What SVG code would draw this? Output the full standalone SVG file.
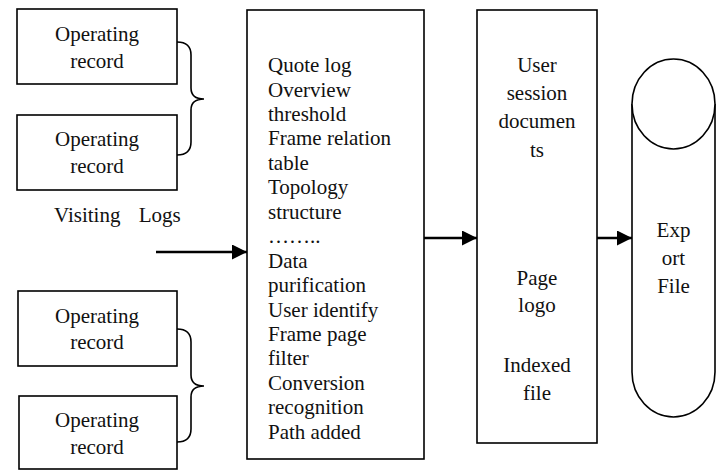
<svg xmlns="http://www.w3.org/2000/svg" width="720" height="471" viewBox="0 0 720 471">
<style>
.box{fill:#fff;stroke:#000;stroke-width:1.6}
.t{font-family:"Liberation Serif","Times New Roman",serif;font-size:21px;fill:#111}
.c{text-anchor:middle}
.conn{fill:none;stroke:#000;stroke-width:2.6}
.brace{fill:none;stroke:#000;stroke-width:1.6}
</style>
<defs>
<marker id="ah" markerWidth="16" markerHeight="16" refX="15" refY="7.5" orient="auto" markerUnits="userSpaceOnUse">
<path d="M0,0 L15,7.5 L0,15 Z" fill="#000"/>
</marker>
</defs>
<rect width="720" height="471" fill="#fff"/>
<g id="rec1">
<rect class="box" x="17" y="9" width="160" height="75"/>
<text class="t c" x="97" y="41">Operating</text>
<text class="t c" x="97" y="68">record</text>
</g>
<g id="rec2">
<rect class="box" x="17" y="115" width="160" height="75"/>
<text class="t c" x="97" y="146">Operating</text>
<text class="t c" x="97" y="173">record</text>
</g>
<g id="rec3">
<rect class="box" x="18" y="291" width="159" height="75"/>
<text class="t c" x="97" y="323">Operating</text>
<text class="t c" x="97" y="349">record</text>
</g>
<g id="rec4">
<rect class="box" x="19" y="396" width="158" height="73"/>
<text class="t c" x="97" y="427">Operating</text>
<text class="t c" x="97" y="454">record</text>
</g>
<g id="visiting">
<text class="t" x="54" y="222" word-spacing="13">Visiting Logs</text>
</g>
<g id="process">
<rect class="box" x="247" y="10" width="177" height="449"/>
<text class="t" x="268" y="72">Quote log</text>
<text class="t" x="268" y="96.5">Overview</text>
<text class="t" x="268" y="121">threshold</text>
<text class="t" x="268" y="145.4">Frame relation</text>
<text class="t" x="268" y="169.8">table</text>
<text class="t" x="268" y="194.3">Topology</text>
<text class="t" x="268" y="218.7">structure</text>
<text class="t" x="268" y="243.2">……..</text>
<text class="t" x="268" y="267.6">Data</text>
<text class="t" x="268" y="292">purification</text>
<text class="t" x="268" y="316.5">User identify</text>
<text class="t" x="268" y="340.9">Frame page</text>
<text class="t" x="268" y="365.4">filter</text>
<text class="t" x="268" y="389.8">Conversion</text>
<text class="t" x="268" y="414.3">recognition</text>
<text class="t" x="268" y="438.7">Path added</text>
</g>
<g id="session">
<rect class="box" x="477" y="10" width="120" height="433"/>
<text class="t c" x="537" y="72">User</text>
<text class="t c" x="537" y="100">session</text>
<text class="t c" x="537" y="128">documen</text>
<text class="t c" x="537" y="157">ts</text>
<text class="t c" x="537" y="285">Page</text>
<text class="t c" x="537" y="312">logo</text>
<text class="t c" x="537" y="372">Indexed</text>
<text class="t c" x="537" y="400">file</text>
</g>
<g id="export">
<path class="box" d="M632,104 L632,372 A41.5,45 0 0 0 715,372 L715,104"/>
<ellipse class="box" cx="673.5" cy="104" rx="41.5" ry="45" fill="none"/>
<text class="t c" x="673.5" y="237">Exp</text>
<text class="t c" x="673.5" y="265">ort</text>
<text class="t c" x="673.5" y="293">File</text>
</g>
<g id="connectors">
<path class="brace" d="M177,42 Q191,42 191,55 L191,88 Q191,99 204,99 Q191,99 191,110 L191,142 Q191,155 177,155"/>
<path class="brace" d="M177,329 Q191,329 191,342 L191,375 Q191,386 204,386 Q191,386 191,397 L191,429 Q191,442 177,442"/>
<line class="conn" x1="156" y1="252" x2="247" y2="252" marker-end="url(#ah)"/>
<line class="conn" x1="424" y1="238" x2="477" y2="238" marker-end="url(#ah)"/>
<line class="conn" x1="597" y1="238" x2="632" y2="238" marker-end="url(#ah)"/>
</g>
</svg>
